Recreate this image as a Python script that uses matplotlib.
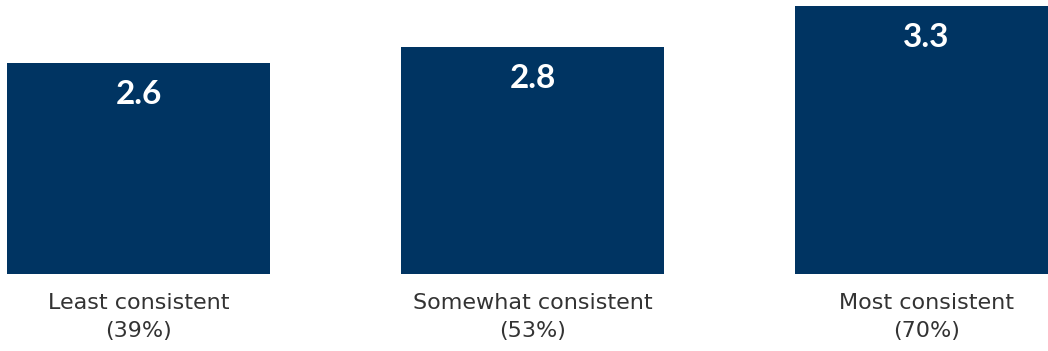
import matplotlib.pyplot as plt

categories = ["Least consistent", "Somewhat consistent", "Most consistent"]
shares = ["39%", "53%", "70%"]
scores = [2.6, 2.8, 3.3]

BAR_COLOR = "#003462"
TEXT_COLOR = "#333333"

fig = plt.figure(figsize=(10.48, 3.51), dpi=100)
ax = fig.add_axes([0, 77 / 351, 1, 274 / 351])

x = list(range(len(scores)))
ax.bar(x, scores, width=0.6675, color=BAR_COLOR)

for xi, v in zip(x, scores):
    ax.annotate(f"{v:.1f}", (xi, v), xytext=(0, -23), textcoords="offset points",
                ha="center", va="center", color="white", fontsize=24,
                fontweight="bold", family="Lato")

ax.set_xlim(-138.5 / 394, (1048 - 138.5) / 394)
ax.set_ylim(0, 274 / 81.2)

ax.set_xticks(x)
ax.set_xticklabels([f"{c}\n({s})" for c, s in zip(categories, shares)],
                   fontsize=16, color=TEXT_COLOR, family="DejaVu Sans",
                   linespacing=1.5)
ax.tick_params(axis="x", length=0, pad=14)
ax.set_yticks([])
for s in ax.spines.values():
    s.set_visible(False)

fig.savefig("out.png", dpi=100)
